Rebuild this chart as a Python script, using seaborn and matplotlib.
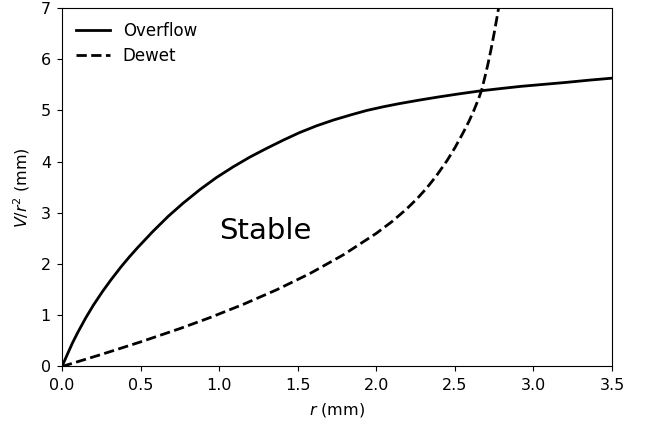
import numpy as np
import pandas as pd
import matplotlib
matplotlib.use("Agg")
import matplotlib.pyplot as plt
import seaborn as sns

# Overflow curve
overflow_r = [0.0, 0.033, 0.066, 0.10, 0.151, 0.20, 0.257, 0.31, 0.378, 0.43,
              0.48, 0.576, 0.675, 0.771, 0.88, 0.983, 1.09, 1.196, 1.30,
              1.408, 1.51, 1.62, 1.73, 1.84, 1.94, 2.05, 2.15, 2.28, 2.40,
              2.53, 2.67, 2.80, 2.92, 3.05, 3.2, 3.35, 3.5]
overflow_v = [0.0, 0.23, 0.456, 0.663, 0.949, 1.199, 1.461, 1.686, 1.955, 2.145,
              2.317, 2.63, 2.93, 3.19, 3.46, 3.69, 3.90, 4.09, 4.256,
              4.42, 4.565, 4.70, 4.815, 4.915, 5.0, 5.075, 5.135, 5.205, 5.265,
              5.325, 5.385, 5.43, 5.47, 5.505, 5.545, 5.59, 5.63]

# Dewet curve
dewet_r = [0.0, 0.25, 0.5, 0.75, 0.94, 1.153, 1.366, 1.578, 1.79, 2.0, 2.1,
           2.19, 2.26, 2.32, 2.38, 2.45, 2.50, 2.55, 2.59, 2.62, 2.65, 2.67,
           2.69, 2.71, 2.73, 2.75, 2.767, 2.781, 2.80]
dewet_v = [0.0, 0.235, 0.48, 0.74, 0.953, 1.213, 1.498, 1.816, 2.18, 2.60, 2.83,
           3.068, 3.278, 3.482, 3.713, 4.02, 4.27, 4.55, 4.79, 4.994, 5.222, 5.394,
           5.64, 5.90, 6.19, 6.51, 6.80, 7.05, 7.4]

x_ticks = [0.0, 0.5, 1.0, 1.5, 2.0, 2.5, 3.0, 3.5]
y_ticks = [0, 1, 2, 3, 4, 5, 6, 7]

df_over = pd.DataFrame({"r": overflow_r, "v": overflow_v})
df_dew = pd.DataFrame({"r": dewet_r, "v": dewet_v})

fig = plt.figure(figsize=(6.52, 4.28), dpi=100)
ax = fig.add_axes([0.0951, 0.1437, 0.8436, 0.8376])

sns.lineplot(data=df_over, x="r", y="v", ax=ax, color="black", lw=2,
             label="Overflow", sort=False)
sns.lineplot(data=df_dew, x="r", y="v", ax=ax, color="black", lw=2,
             linestyle="--", label="Dewet", sort=False)

ax.set_xlim(0, 3.5)
ax.set_ylim(0, 7)
ax.set_xticks(x_ticks)
ax.set_xticklabels([f"{t:.1f}" for t in x_ticks])
ax.set_yticks(y_ticks)
ax.tick_params(labelsize=11.5, pad=4.5)
ax.set_xlabel("$r$ (mm)", fontsize=11.5, labelpad=6)
ax.set_ylabel("$V/r^2$ (mm)", fontsize=11.5, labelpad=6)
ax.text(1.0, 2.65, "Stable", fontsize=21, ha="left", va="center")
ax.legend(loc="upper left", frameon=False, fontsize=12, labelspacing=0.42,
          handletextpad=0.8, borderaxespad=0.45)

fig.savefig("out.png", dpi=100)
